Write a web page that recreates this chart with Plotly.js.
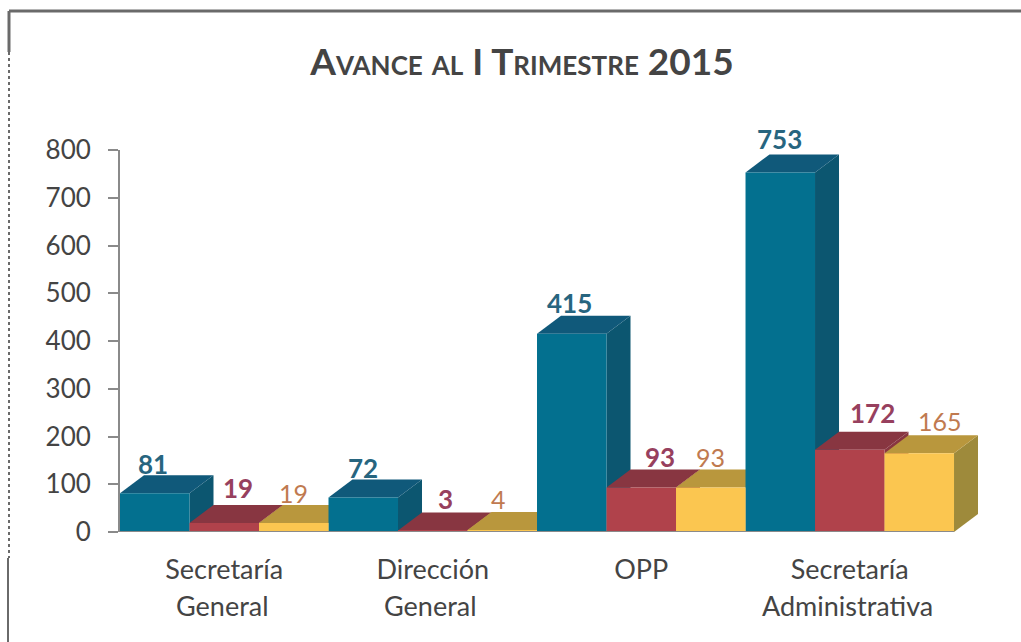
<!DOCTYPE html>
<html>
<head>
<meta charset="utf-8">
<script src="https://cdn.plot.ly/plotly-3.0.1.min.js"></script>
<style>html,body{margin:0;padding:0;background:#fff}#chart{width:1021px;height:642px}</style>
</head>
<body>
<div id="chart"></div>
<script>
// ---- data ----
const catLine1 = ['Secretaría', 'Dirección', 'OPP', 'Secretaría'];
const catLine2 = ['General', 'General', '', 'Administrativa'];
const serieA = [81, 72, 415, 753];
const serieB = [19, 3, 93, 172];
const serieC = [19, 4, 93, 165];
const yTicks = [0, 100, 200, 300, 400, 500, 600, 700, 800];

// ---- label nudges in px (x right, y up from the top of the front face) ----
const nudgeAx = [-2, 0, -2, -1],  nudgeAy = [29, 30, 31, 33];
const nudgeBx = [14, 13, 19, 23], nudgeBy = [35, 32, 31, 37];
const nudgeCx = [0, -4, 0, 21],   nudgeCy = [30, 31, 31, 32];

// ---- styling ----
const styles = [
  {front:'#03708f', top:'#10597a', side:'#0c5670', label:'#27657f', weight:700, size:26, vals:serieA, nx:nudgeAx, ny:nudgeAy},
  {front:'#b0424b', top:'#883641', side:'#883641', label:'#97405e', weight:700, size:26, vals:serieB, nx:nudgeBx, ny:nudgeBy},
  {front:'#fbc650', top:'#b9973d', side:'#9e8a3b', label:'#c07a50', weight:400, size:25, vals:serieC, nx:nudgeCx, ny:nudgeCy}
];
const FONT = 'Lato, "Open Sans", sans-serif';
const INK = '#444444';
const L = 120, R = 43, T = 150, B = 110, W = 1021, H = 642;
const xMin = -0.5, xMax = 3.615;
const pxPerX = (W - L - R) / (xMax - xMin);
const pxPerY = (H - T - B) / 800;
const dx = 24 / pxPerX, dy = 18 / pxPerY;
const barW = 1 / 3;

const traces = styles.map((s, k) => ({
  type: 'bar',
  x: [0, 1, 2, 3].map(i => i - barW + k * barW),
  y: s.vals,
  width: barW,
  marker: {color: s.front, line: {width: 0}},
  hoverinfo: 'y',
  showlegend: false
}));

const shapes = [];
const poly = (pts, fill) => shapes.push({
  type: 'path', layer: 'below', xref: 'x', yref: 'y',
  path: 'M' + pts.map(p => p[0] + ',' + p[1]).join(' L') + ' Z',
  fillcolor: fill, line: {width: 0}
});
[0, 1, 2, 3].forEach(i => {
  styles.forEach((s, k) => {
    const x0 = i - 1.5 * barW + k * barW, x1 = x0 + barW, v = s.vals[i];
    poly([[x1, 0], [x1 + dx, dy], [x1 + dx, v + dy], [x1, v]], s.side);
    poly([[x0, v], [x1, v], [x1 + dx, v + dy], [x0 + dx, v + dy]], s.top);
  });
});
// baseline under the bars
shapes.push({type: 'line', xref: 'x', yref: 'y', x0: xMin, x1: 3.5, y0: 0, y1: 0, layer: 'above',
  line: {color: '#8a8a8a', width: 2}});
// outer frame (top and left edges of the scanned page box)
const pageLine = (x0, y0, x1, y1, dash, w) => ({type: 'line', xref: 'paper', yref: 'paper',
  x0: (x0 - L) / (W - L - R), x1: (x1 - L) / (W - L - R),
  y0: (H - B - y0) / (H - T - B), y1: (H - B - y1) / (H - T - B),
  line: {color: '#6a6a6a', width: w, dash: dash}});
shapes.push(pageLine(9, 11, 1021, 11, 'solid', 3));
shapes.push(pageLine(9, 11, 9, 52, 'solid', 3));
shapes.push(pageLine(9, 52, 9, 558, 'dot', 2));
shapes.push(pageLine(8, 558, 8, 642, 'solid', 2));

const annotations = [];
styles.forEach((s, k) => {
  s.vals.forEach((v, i) => annotations.push({
    x: i - barW + k * barW, y: v, xref: 'x', yref: 'y',
    text: String(v), showarrow: false, xanchor: 'center', yanchor: 'middle',
    xshift: s.nx[i], yshift: s.ny[i],
    font: {family: FONT, size: s.size, color: s.label, weight: s.weight}
  }));
});
catLine2.forEach((t, i) => {
  if (t) annotations.push({
    x: i, y: 0, xref: 'x', yref: 'y', text: t, showarrow: false,
    xanchor: 'center', yanchor: 'middle', yshift: -73, xshift: -2,
    font: {family: FONT, size: 27, color: INK}
  });
});

const layout = {
  width: W, height: H,
  margin: {l: L, r: R, t: T, b: B, pad: 0},
  paper_bgcolor: '#ffffff', plot_bgcolor: 'rgba(0,0,0,0)',
  barmode: 'overlay',
  title: {
    text: 'Avance al I Trimestre 2015',
    x: 522 / W, xanchor: 'center', y: 1 - 62 / H, yanchor: 'middle',
    font: {family: FONT, size: 37, color: INK, weight: 700, variant: 'small-caps'}
  },
  xaxis: {
    range: [xMin, xMax], showgrid: false, zeroline: false, showline: false,
    tickmode: 'array', tickvals: [0, 1, 2, 3], ticktext: catLine1,
    ticks: 'outside', ticklen: 14, tickcolor: 'rgba(0,0,0,0)',
    tickfont: {family: FONT, size: 27, color: INK}
  },
  yaxis: {
    range: [0, 800], showgrid: false, zeroline: false,
    showline: true, linecolor: '#8a8a8a', linewidth: 2,
    tickmode: 'array', tickvals: yTicks,
    ticks: 'outside', ticklen: 10, tickcolor: '#8a8a8a', tickwidth: 2,
    ticklabelstandoff: 12,
    tickfont: {family: FONT, size: 26, color: INK}
  },
  shapes: shapes,
  annotations: annotations,
  showlegend: false
};
Plotly.newPlot('chart', traces, layout, {displayModeBar: false, responsive: false});
</script>
</body>
</html>
